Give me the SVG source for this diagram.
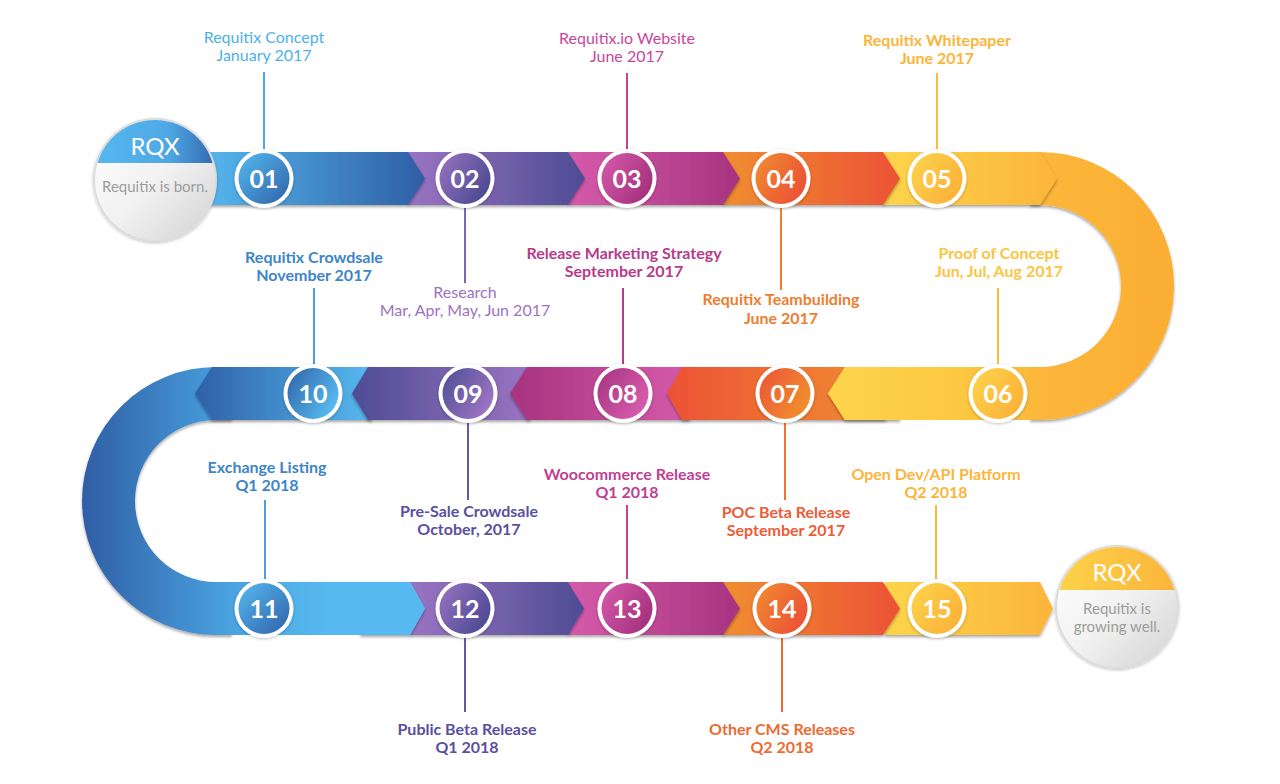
<svg xmlns="http://www.w3.org/2000/svg" width="1280" height="784" viewBox="0 0 1280 784">
<defs>
<style>
.lbl{font-family:Lato,"Open Sans","Liberation Sans",sans-serif;font-size:16px;text-anchor:middle}
.b{font-weight:700}
.num{font-family:Lato,"Open Sans","Liberation Sans",sans-serif;font-size:25px;font-weight:700;fill:#fff;text-anchor:middle}
.conn line{stroke-width:2}
.ring{fill:#fff;filter:url(#sh2)}
.seg{filter:url(#sh)}
.rqx{font-family:Lato,"Open Sans","Liberation Sans",sans-serif;font-size:24px;font-weight:400;fill:#fff;text-anchor:middle}
.rqs{font-family:Lato,"Open Sans","Liberation Sans",sans-serif;font-size:15px;fill:#9c9c9c;text-anchor:middle}
</style>
<filter id="sh" x="-10%" y="-20%" width="130%" height="160%"><feDropShadow dx="0" dy="2" stdDeviation="1.6" flood-color="#000" flood-opacity="0.35"/></filter>
<filter id="sh2" x="-30%" y="-30%" width="160%" height="160%"><feDropShadow dx="0" dy="1" stdDeviation="1.5" flood-color="#000" flood-opacity="0.25"/></filter>
<linearGradient id="gBlueR" x1="0" y1="0" x2="1" y2="0"><stop offset="0" stop-color="#56b9ef"/><stop offset="1" stop-color="#2f5ea5"/></linearGradient>
<linearGradient id="gPurR" x1="0" y1="0" x2="1" y2="0"><stop offset="0" stop-color="#9a74c2"/><stop offset="1" stop-color="#4e4c94"/></linearGradient>
<linearGradient id="gMagR" x1="0" y1="0" x2="1" y2="0"><stop offset="0" stop-color="#d65bab"/><stop offset="1" stop-color="#a6337f"/></linearGradient>
<linearGradient id="gOrR" x1="0" y1="0" x2="1" y2="0"><stop offset="0" stop-color="#f08e2f"/><stop offset="1" stop-color="#ec5236"/></linearGradient>
<linearGradient id="gYelR" x1="0" y1="0" x2="1" y2="0"><stop offset="0" stop-color="#fdd44b"/><stop offset="1" stop-color="#fbb53a"/></linearGradient>
<linearGradient id="gBlueL" x1="0" y1="0" x2="1" y2="0"><stop offset="0" stop-color="#2f60a7"/><stop offset="1" stop-color="#56b9ef"/></linearGradient>
<linearGradient id="gPurL" x1="0" y1="0" x2="1" y2="0"><stop offset="0" stop-color="#4e4c94"/><stop offset="1" stop-color="#9a74c2"/></linearGradient>
<linearGradient id="gMagL" x1="0" y1="0" x2="1" y2="0"><stop offset="0" stop-color="#a6337f"/><stop offset="1" stop-color="#d65bab"/></linearGradient>
<linearGradient id="gOrL" x1="0" y1="0" x2="1" y2="0"><stop offset="0" stop-color="#ec5236"/><stop offset="1" stop-color="#f08e2f"/></linearGradient>
<linearGradient id="gYelL" gradientUnits="userSpaceOnUse" x1="828" y1="0" x2="1042" y2="0"><stop offset="0" stop-color="#fdd44b"/><stop offset="0.6" stop-color="#fcc842"/><stop offset="1" stop-color="#fbb73b"/></linearGradient>
<linearGradient id="gUR" gradientUnits="userSpaceOnUse" x1="1030" y1="0" x2="1174" y2="0"><stop offset="0" stop-color="#fbb73b"/><stop offset="1" stop-color="#fbae33"/></linearGradient>
<linearGradient id="gUL" gradientUnits="userSpaceOnUse" x1="82" y1="0" x2="232" y2="0"><stop offset="0" stop-color="#2f5ea5"/><stop offset="1" stop-color="#4aa3e0"/></linearGradient>
<linearGradient id="gBlue3" gradientUnits="userSpaceOnUse" x1="228" y1="0" x2="425" y2="0"><stop offset="0" stop-color="#4aa2df"/><stop offset="0.5" stop-color="#56b9ef"/><stop offset="1" stop-color="#56b9ef"/></linearGradient>
<linearGradient id="cBlueA" x1="0" y1="0" x2="1" y2="1"><stop offset="0" stop-color="#56b9ef"/><stop offset="1" stop-color="#2f62a8"/></linearGradient>
<linearGradient id="cBlueB" x1="0" y1="0" x2="1" y2="0.6"><stop offset="0" stop-color="#2f62a8"/><stop offset="1" stop-color="#56b9ef"/></linearGradient>
<linearGradient id="cPurA" x1="0" y1="0" x2="1" y2="0.6"><stop offset="0" stop-color="#9a74c2"/><stop offset="1" stop-color="#4e4c94"/></linearGradient>
<linearGradient id="cPurB" x1="0" y1="0" x2="1" y2="0.6"><stop offset="0" stop-color="#4e4c94"/><stop offset="1" stop-color="#9a74c2"/></linearGradient>
<linearGradient id="cMagA" x1="0" y1="0" x2="1" y2="0.6"><stop offset="0" stop-color="#d65bab"/><stop offset="1" stop-color="#a6337f"/></linearGradient>
<linearGradient id="cMagB" x1="0" y1="0" x2="1" y2="0.6"><stop offset="0" stop-color="#a6337f"/><stop offset="1" stop-color="#d65bab"/></linearGradient>
<linearGradient id="cOrA" x1="0" y1="0" x2="1" y2="0.6"><stop offset="0" stop-color="#f08e2f"/><stop offset="1" stop-color="#ec5236"/></linearGradient>
<linearGradient id="cOrB" x1="0" y1="0" x2="1" y2="0.6"><stop offset="0" stop-color="#ec5236"/><stop offset="1" stop-color="#f08e2f"/></linearGradient>
<linearGradient id="cYel" x1="0" y1="0" x2="1" y2="0.6"><stop offset="0" stop-color="#fdd44b"/><stop offset="1" stop-color="#fbb33a"/></linearGradient>
<linearGradient id="gGrey" x1="0" y1="0" x2="1" y2="1"><stop offset="0" stop-color="#ffffff"/><stop offset="0.5" stop-color="#f2f2f2"/><stop offset="1" stop-color="#d2d2d2"/></linearGradient>
<linearGradient id="capBlue" x1="0" y1="0" x2="1" y2="0"><stop offset="0" stop-color="#56b9ef"/><stop offset="0.6" stop-color="#4fa8e5"/><stop offset="1" stop-color="#2f62a8"/></linearGradient>
<linearGradient id="capYel" x1="0" y1="0" x2="1" y2="0"><stop offset="0" stop-color="#fdd44b"/><stop offset="1" stop-color="#fbb33a"/></linearGradient>
<clipPath id="clipL"><circle cx="155" cy="180" r="60"/></clipPath>
<clipPath id="clipR"><circle cx="1117" cy="607" r="60"/></clipPath>
</defs>
<rect width="1280" height="784" fill="#fff"/>

<g id="track">
  <!-- left U turn -->
  <path d="M232 367 L216 367 A134 134 0 0 0 216 635 L232 635 L232 582 L216 582 A81 81 0 0 1 216 420 L232 420 Z" fill="url(#gUL)" class="seg"/>
  <!-- row 3 -->
  <polygon class="seg" points="885,582 1040,582 1053,608.5 1040,635 885,635" fill="url(#gYelR)"/>
  <polygon class="seg" points="723,582 883,582 900,608.5 883,635 723,635" fill="url(#gOrR)"/>
  <polygon class="seg" points="568,582 723,582 740,608.5 723,635 568,635" fill="url(#gMagR)"/>
  <polygon class="seg" points="410,582 568,582 584,608.5 568,635 410,635" fill="url(#gPurR)"/>
  <polygon class="seg" points="360,582 410,582 425,608.5 410,635 360,635" fill="#56b9ef"/>
  <polygon points="228,582 410,582 425,608.5 410,635 228,635" fill="url(#gBlue3)"/>
  <!-- right U turn -->
  <path d="M1030 152 L1040 152 A134 134 0 0 1 1040 420 L1030 420 L1030 367 L1040 367 A81 81 0 0 0 1040 205 L1030 205 Z" fill="url(#gUR)" class="seg"/>
  <!-- row 2 (leftward) -->
  <polygon class="seg" points="372,367 212,367 195,393.5 212,420 372,420" fill="url(#gBlueL)"/>
  <polygon class="seg" points="530,367 368,367 352,393.5 368,420 530,420" fill="url(#gPurL)"/>
  <polygon class="seg" points="690,367 527,367 510,393.5 527,420 690,420" fill="url(#gMagL)"/>
  <polygon class="seg" points="886,367 682,367 667,393.5 682,420 886,420" fill="url(#gOrL)"/>
  <polygon class="seg" points="900,367 845,367 828,393.5 845,420 900,420" fill="#fdd44b"/>
  <polygon points="1042,367 845,367 828,393.5 845,420 1042,420" fill="url(#gYelL)"/>
  <!-- row 1 -->
  <polygon class="seg" points="883,152 1040,152 1057,178.5 1040,205 883,205" fill="url(#gYelR)"/>
  <polygon class="seg" points="723,152 883,152 900,178.5 883,205 723,205" fill="url(#gOrR)"/>
  <polygon class="seg" points="568,152 723,152 740,178.5 723,205 568,205" fill="url(#gMagR)"/>
  <polygon class="seg" points="408,152 568,152 585,178.5 568,205 408,205" fill="url(#gPurR)"/>
  <polygon class="seg" points="200,152 408,152 425,178.5 408,205 200,205" fill="url(#gBlueR)"/>
</g>

<g id="connectors" class="conn">
  <line x1="264" y1="72" x2="264" y2="152" stroke="#4aa8e6"/>
  <line x1="627" y1="73" x2="627" y2="152" stroke="#c2449a"/>
  <line x1="937" y1="73" x2="937" y2="152" stroke="#fbbb3e"/>
  <line x1="465" y1="205" x2="465" y2="283" stroke="#8065b4"/>
  <line x1="781" y1="205" x2="781" y2="290" stroke="#ef7d2e"/>
  <line x1="314" y1="288" x2="314" y2="367" stroke="#4a9fdf"/>
  <line x1="623" y1="288" x2="623" y2="367" stroke="#b73b8c"/>
  <line x1="998" y1="288" x2="998" y2="367" stroke="#fbbb3e"/>
  <line x1="468" y1="420" x2="468" y2="500" stroke="#6a56a8"/>
  <line x1="785" y1="420" x2="785" y2="500" stroke="#ef7430"/>
  <line x1="265" y1="500" x2="265" y2="582" stroke="#4a9fdf"/>
  <line x1="627" y1="505" x2="627" y2="582" stroke="#c2449a"/>
  <line x1="936" y1="505" x2="936" y2="582" stroke="#fbbb3e"/>
  <line x1="465" y1="635" x2="465" y2="712" stroke="#6a56a8"/>
  <line x1="782" y1="635" x2="782" y2="712" stroke="#ef6a30"/>
</g>

<g id="start">
  <circle cx="155" cy="180" r="62" fill="#dcdcdc" filter="url(#sh2)"/>
  <circle cx="155" cy="180" r="60" fill="url(#gGrey)"/>
  <rect x="90" y="115" width="130" height="48" fill="url(#capBlue)" clip-path="url(#clipL)"/>
  <text class="rqx" x="155" y="155">RQX</text>
  <text class="rqs" x="155" y="192">Requitix is born.</text>
</g>
<g id="end">
  <circle cx="1117" cy="607" r="62" fill="#dcdcdc" filter="url(#sh2)"/>
  <circle cx="1117" cy="607" r="60" fill="url(#gGrey)"/>
  <rect x="1052" y="542" width="130" height="48" fill="url(#capYel)" clip-path="url(#clipR)"/>
  <text class="rqx" x="1117" y="581">RQX</text>
  <text class="rqs" x="1117" y="614">Requitix is</text>
  <text class="rqs" x="1117" y="632">growing well.</text>
</g>

<g id="node-01">
  <circle class="ring" cx="264" cy="178.5" r="29.5"/><circle cx="264" cy="178.5" r="25.5" fill="url(#cBlueA)"/>
  <text class="num" x="264" y="187.5">01</text>
  <text class="lbl" fill="#4cb1ea" x="264" y="43">Requitix Concept</text>
  <text class="lbl" fill="#4cb1ea" x="264" y="61">January 2017</text>
</g>
<g id="node-02">
  <circle class="ring" cx="465" cy="178.5" r="29.5"/><circle cx="465" cy="178.5" r="25.5" fill="url(#cPurA)"/>
  <text class="num" x="465" y="187.5">02</text>
  <text class="lbl" fill="#9a74c2" x="465" y="298">Research</text>
  <text class="lbl" fill="#9a74c2" x="465" y="316">Mar, Apr, May, Jun 2017</text>
</g>
<g id="node-03">
  <circle class="ring" cx="627" cy="178.5" r="29.5"/><circle cx="627" cy="178.5" r="25.5" fill="url(#cMagA)"/>
  <text class="num" x="627" y="187.5">03</text>
  <text class="lbl" fill="#c9459d" x="627" y="44">Requitix.io Website</text>
  <text class="lbl" fill="#c9459d" x="627" y="62">June 2017</text>
</g>
<g id="node-04">
  <circle class="ring" cx="781" cy="178.5" r="29.5"/><circle cx="781" cy="178.5" r="25.5" fill="url(#cOrA)"/>
  <text class="num" x="781" y="187.5">04</text>
  <text class="lbl b" fill="#ef7d2e" x="781" y="305">Requitix Teambuilding</text>
  <text class="lbl b" fill="#ef7d2e" x="781" y="324">June 2017</text>
</g>
<g id="node-05">
  <circle class="ring" cx="937" cy="178.5" r="29.5"/><circle cx="937" cy="178.5" r="25.5" fill="url(#cYel)"/>
  <text class="num" x="937" y="187.5">05</text>
  <text class="lbl b" fill="#fbb53a" x="937" y="46">Requitix Whitepaper</text>
  <text class="lbl b" fill="#fbb53a" x="937" y="64">June 2017</text>
</g>
<g id="node-06">
  <circle class="ring" cx="998" cy="393.5" r="29.5"/><circle cx="998" cy="393.5" r="25.5" fill="url(#cYel)"/>
  <text class="num" x="998" y="402.5">06</text>
  <text class="lbl b" fill="#fcc441" x="999" y="259">Proof of Concept</text>
  <text class="lbl b" fill="#fcc441" x="999" y="277">Jun, Jul, Aug 2017</text>
</g>
<g id="node-07">
  <circle class="ring" cx="785" cy="393.5" r="29.5"/><circle cx="785" cy="393.5" r="25.5" fill="url(#cOrB)"/>
  <text class="num" x="785" y="402.5">07</text>
  <text class="lbl b" fill="#ee5b36" x="786" y="518">POC Beta Release</text>
  <text class="lbl b" fill="#ee5b36" x="786" y="536">September 2017</text>
</g>
<g id="node-08">
  <circle class="ring" cx="623" cy="393.5" r="29.5"/><circle cx="623" cy="393.5" r="25.5" fill="url(#cMagB)"/>
  <text class="num" x="623" y="402.5">08</text>
  <text class="lbl b" fill="#b73b8c" x="624" y="259">Release Marketing Strategy</text>
  <text class="lbl b" fill="#b73b8c" x="624" y="277">September 2017</text>
</g>
<g id="node-09">
  <circle class="ring" cx="468" cy="393.5" r="29.5"/><circle cx="468" cy="393.5" r="25.5" fill="url(#cPurB)"/>
  <text class="num" x="468" y="402.5">09</text>
  <text class="lbl b" fill="#5b4f9f" x="469" y="517">Pre-Sale Crowdsale</text>
  <text class="lbl b" fill="#5b4f9f" x="469" y="535">October, 2017</text>
</g>
<g id="node-10">
  <circle class="ring" cx="313" cy="393.5" r="29.5"/><circle cx="313" cy="393.5" r="25.5" fill="url(#cBlueB)"/>
  <text class="num" x="313" y="402.5">10</text>
  <text class="lbl b" fill="#3d85c8" x="314" y="263">Requitix Crowdsale</text>
  <text class="lbl b" fill="#3d85c8" x="314" y="281">November 2017</text>
</g>
<g id="node-11">
  <circle class="ring" cx="264" cy="608.5" r="29.5"/><circle cx="264" cy="608.5" r="25.5" fill="url(#cBlueA)"/>
  <text class="num" x="264" y="617.5">11</text>
  <text class="lbl b" fill="#3d85c8" x="267" y="473">Exchange Listing</text>
  <text class="lbl b" fill="#3d85c8" x="267" y="491">Q1 2018</text>
</g>
<g id="node-12">
  <circle class="ring" cx="465" cy="608.5" r="29.5"/><circle cx="465" cy="608.5" r="25.5" fill="url(#cPurA)"/>
  <text class="num" x="465" y="617.5">12</text>
  <text class="lbl b" fill="#5b4f9f" x="467" y="735">Public Beta Release</text>
  <text class="lbl b" fill="#5b4f9f" x="467" y="753">Q1 2018</text>
</g>
<g id="node-13">
  <circle class="ring" cx="627" cy="608.5" r="29.5"/><circle cx="627" cy="608.5" r="25.5" fill="url(#cMagA)"/>
  <text class="num" x="627" y="617.5">13</text>
  <text class="lbl b" fill="#bf3f93" x="627" y="480">Woocommerce Release</text>
  <text class="lbl b" fill="#bf3f93" x="627" y="498">Q1 2018</text>
</g>
<g id="node-14">
  <circle class="ring" cx="782" cy="608.5" r="29.5"/><circle cx="782" cy="608.5" r="25.5" fill="url(#cOrA)"/>
  <text class="num" x="782" y="617.5">14</text>
  <text class="lbl b" fill="#ef6a30" x="782" y="735">Other CMS Releases</text>
  <text class="lbl b" fill="#ef6a30" x="782" y="753">Q2 2018</text>
</g>
<g id="node-15">
  <circle class="ring" cx="937" cy="608.5" r="29.5"/><circle cx="937" cy="608.5" r="25.5" fill="url(#cYel)"/>
  <text class="num" x="937" y="617.5">15</text>
  <text class="lbl b" fill="#fbb53a" x="936" y="480">Open Dev/API Platform</text>
  <text class="lbl b" fill="#fbb53a" x="936" y="498">Q2 2018</text>
</g>
</svg>
